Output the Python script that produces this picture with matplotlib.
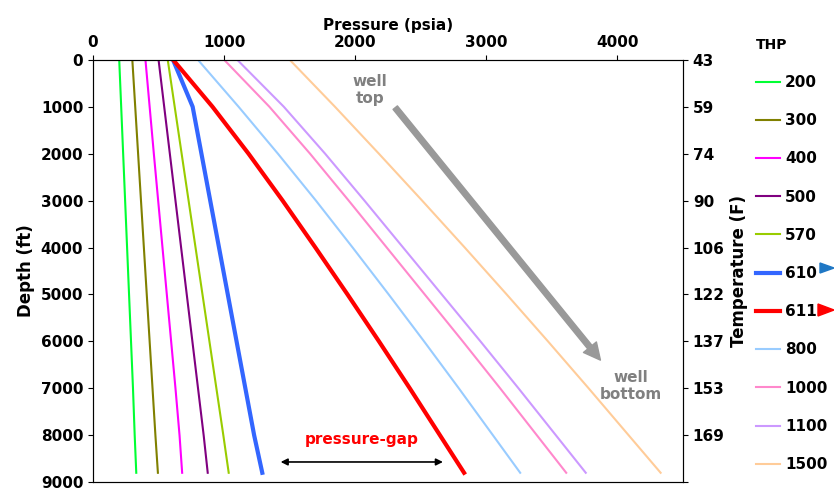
import numpy as np
import matplotlib.pyplot as plt

depth = [0, 1000, 2000, 3000, 4000, 5000, 6000, 7000, 8000, 8800]
thp = ['200', '300', '400', '500', '570', '610', '611', '800', '1000', '1100', '1500']
pressure = {
    '200': [200, 215, 230, 245, 260, 275, 290, 305, 318, 330],
    '300': [300, 322, 344, 366, 388, 410, 432, 454, 476, 495],
    '400': [400, 432, 464, 497, 530, 563, 596, 629, 660, 680],
    '500': [500, 543, 586, 629, 672, 715, 758, 801, 844, 875],
    '570': [570, 623, 676, 729, 782, 835, 888, 941, 994, 1035],
    '610': [610, 760, 827, 894, 961, 1028, 1095, 1162, 1229, 1291],
    '611': [611, 911, 1186, 1446, 1696, 1941, 2181, 2416, 2646, 2830],
    '800': [800, 1110, 1410, 1700, 1980, 2255, 2525, 2790, 3050, 3258],
    '1000': [1000, 1345, 1655, 1950, 2240, 2530, 2820, 3105, 3385, 3609],
    '1100': [1100, 1455, 1770, 2070, 2365, 2660, 2955, 3245, 3530, 3758],
    '1500': [1500, 1845, 2180, 2510, 2835, 3155, 3470, 3780, 4085, 4329],
}
colors = ['#00ff33', '#808000', '#ff00ff', '#800080', '#99cc00', '#3366ff',
          '#ff0000', '#99ccff', '#ff88cc', '#cc99ff', '#ffcc99']
widths = [1.5] * 5 + [3, 3] + [1.5] * 4
depth_ticks = np.arange(0, 9001, 1000)
temp_labels = ['43', '59', '74', '90', '106', '122', '137', '153', '169', '']

fig = plt.figure(figsize=(8.34, 4.9), dpi=100)
ax = fig.add_axes([0.1115, 0.016, 0.7075, 0.862])
for name, c, w in zip(thp, colors, widths):
    ax.plot(pressure[name], depth, color=c, lw=w, label=name)

ax.set_xlim(0, 4500)
ax.set_ylim(9000, 0)
ax.xaxis.tick_top()
ax.xaxis.set_label_position('top')
ax.set_xticks([0, 1000, 2000, 3000, 4000])
ax.set_yticks(depth_ticks)
ax.set_xlabel('Pressure (psia)', fontweight='bold', fontsize=11)
ax.set_ylabel('Depth (ft)', fontweight='bold', fontsize=12)
ax.tick_params(labelsize=11)
for lab in ax.get_xticklabels() + ax.get_yticklabels():
    lab.set_fontweight('bold')
for s in ax.spines.values():
    s.set_color('#444444')

ax2 = ax.twinx()
ax2.set_ylim(9000, 0)
ax2.set_yticks(depth_ticks)
ax2.set_yticklabels(temp_labels, fontweight='bold', fontsize=11)
ax2.set_ylabel('Temperature (F)', fontweight='bold', fontsize=12)

ax.annotate('', xy=(3870, 6400), xytext=(2305, 1020),
            arrowprops=dict(color='#999999', width=4, headwidth=12, headlength=12))
ax.text(2110, 650, 'well\ntop', color='#808080', fontweight='bold', fontsize=11, ha='center', va='center')
ax.text(4100, 6950, 'well\nbottom', color='#808080', fontweight='bold', fontsize=11, ha='center', va='center')
ax.text(2050, 8100, 'pressure-gap', color='red', fontweight='bold', fontsize=11, ha='center', va='center')
ax.annotate('', xy=(2690, 8570), xytext=(1410, 8570),
            arrowprops=dict(arrowstyle='<|-|>', color='black', lw=1.2, mutation_scale=10))

leg = ax.legend(loc='upper left', bbox_to_anchor=(1.10, 1.085), frameon=False, title='THP',
                handlelength=1.6, handletextpad=0.3, labelspacing=1.52, fontsize=11)
leg.get_title().set_fontweight('bold')
leg._legend_box.align = 'left'
for t in leg.get_texts():
    t.set_fontweight('bold')

fig.patches.append(plt.Polygon([[834, 490 - 268], [820, 490 - 263], [820, 490 - 273]],
                               closed=True, color='#1f77c4', transform=None))
fig.patches.append(plt.Polygon([[834, 490 - 310], [818, 490 - 304], [818, 490 - 316]],
                               closed=True, color='red', transform=None))
fig.savefig('out.png', dpi=100)
